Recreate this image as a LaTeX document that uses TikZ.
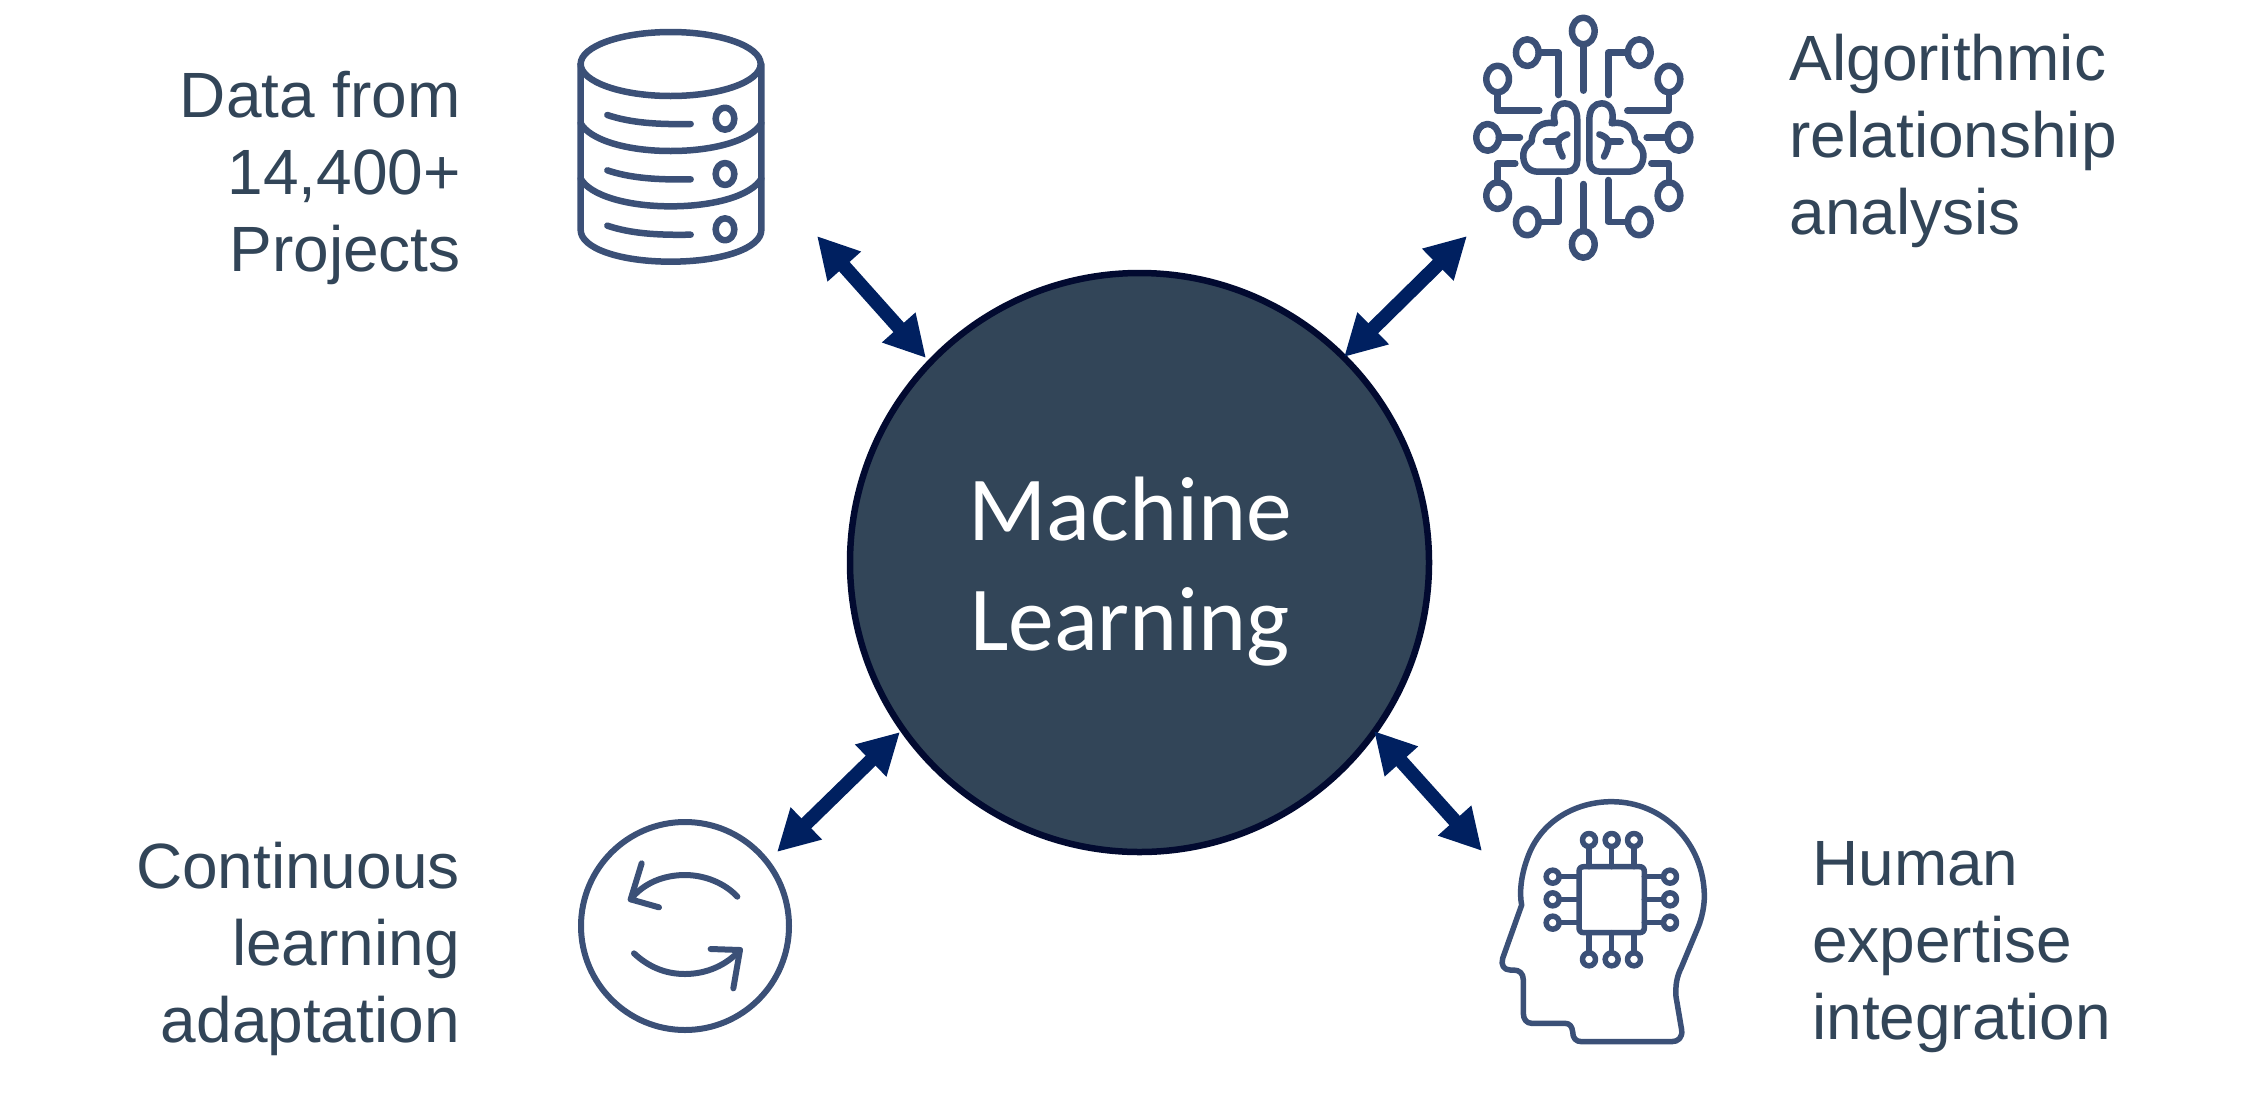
\documentclass[tikz,border=0pt]{standalone}
\usepackage{fontspec}
\setmainfont{Liberation Sans}
\newfontfamily\mlfont{Carlito}
\usetikzlibrary{arrows.meta}
\definecolor{icon}{HTML}{3B5077}
\definecolor{arrowc}{HTML}{002060}
\definecolor{ink}{HTML}{324558}
\definecolor{mlfill}{HTML}{324558}
\definecolor{mlrim}{HTML}{020A30}
\tikzset{
  labeltext/.style={text=ink,font=\fontsize{64}{77}\selectfont,inner sep=0pt},
  linkarrow/.style={line width=14pt,arrowc,{Triangle[length=41pt,width=42pt]}-{Triangle[length=41pt,width=42pt]}},
  iconline/.style={draw=icon,line width=6.5pt,line cap=round,line join=round},
  cycleline/.style={draw=icon,line width=6pt,line cap=round,line join=round},
  thinline/.style={draw=icon,line width=5.5pt,line cap=round,line join=round},
}
\begin{document}
\begin{tikzpicture}[x=1pt,y=-1pt]
\useasboundingbox (0,0) rectangle (2249,1096);
% centre
\node[circle,fill=mlfill,draw=mlrim,line width=6.5pt,minimum size=579pt,inner sep=0pt] (ml) at (1139.5,562.5) {};
\node[text=white,align=center,inner sep=0pt,font=\mlfont\fontsize{91.5}{110}\selectfont,anchor=center] (mlt) at (1130,572) {Machine\\Learning};
% labels
\node[labeltext,align=right,anchor=north east] (data) at (461,71) {Data from\\14,400+\\Projects};
\node[labeltext,align=left,anchor=north west] (algo) at (1789.3,34) {Algorithmic\\relationship\\analysis};
\node[labeltext,align=right,anchor=north east] (cont) at (460,842) {Continuous\\learning\\adaptation};
\node[labeltext,align=left,anchor=north west] (human) at (1812,841) {Human\\expertise\\integration};
% arrows
\coordinate (a1) at (817,236); \coordinate (a2) at (926,358);
\coordinate (b1) at (1467,236); \coordinate (b2) at (1344,357);
\coordinate (c1) at (900,732); \coordinate (c2) at (777,852);
\coordinate (d1) at (1374,731); \coordinate (d2) at (1482,851);
\draw[linkarrow] (a1) -- (a2);
\draw[linkarrow] (b1) -- (b2);
\draw[linkarrow] (c1) -- (c2);
\draw[linkarrow] (d1) -- (d2);
% database icon
\begin{scope}[shift={(540,0)},x=1pt/3,y=-1pt/3]
\draw[iconline] (392,192) ellipse [x radius=270,y radius=96];
\draw[iconline] (122,192) -- (122,690) .. controls (122,745) and (240,785) .. (392,785) .. controls (545,785) and (664,745) .. (664,690) -- (664,192);
\draw[iconline] (122,370) .. controls (150,420) and (260,453) .. (392,453) .. controls (525,453) and (635,420) .. (664,370);
\draw[iconline] (122,536) .. controls (150,586) and (260,619) .. (392,619) .. controls (525,619) and (635,586) .. (664,536);
\foreach \dy in {0,166,332} {
  \draw[iconline] (202,345+\dy) .. controls (270,368+\dy) and (350,374+\dy) .. (452,372+\dy);
  \draw[iconline] (555,356+\dy) ellipse [x radius=28,y radius=33];
}
\end{scope}
% brain icon
\foreach \sx in {1,-1} {
\begin{scope}[shift={(1583.3,0)},x=\sx*1pt/3,y=-1pt/3]
\draw[iconline] (-168,158) ellipse [x radius=34,y radius=40];
\draw[iconline] (-134,158) -- (-75,158) -- (-75,285);
\draw[iconline] (-257,237) ellipse [x radius=34,y radius=40];
\draw[iconline] (-257,277) -- (-257,332) -- (-132,332);
\draw[iconline] (-287,412) ellipse [x radius=34,y radius=40];
\draw[iconline] (-253,412) -- (-190,412);
\draw[iconline] (-257,587) ellipse [x radius=34,y radius=40];
\draw[iconline] (-257,547) -- (-257,490) -- (-204,490);
\draw[iconline] (-168,666) ellipse [x radius=34,y radius=40];
\draw[iconline] (-134,666) -- (-75,666) -- (-75,540);
% brain half
\draw[iconline] (-18,360) .. controls (-18,325) and (-35,310) .. (-55,310) .. controls (-80,310) and (-95,335) .. (-85,370)
  .. controls (-125,362) and (-155,385) .. (-155,425) .. controls (-178,440) and (-182,460) .. (-180,472)
  .. controls (-178,500) and (-160,515) .. (-135,515) -- (-50,515) .. controls (-30,515) and (-18,500) .. (-18,480) -- cycle;
\draw[iconline] (-112,425) -- (-75,425);
\draw[iconline] (-48,403) .. controls (-62,408) and (-75,415) .. (-75,428) .. controls (-75,445) and (-68,458) .. (-62,470);
\end{scope}
}
\begin{scope}[shift={(1583.3,0)},x=1pt/3,y=-1pt/3]
\draw[iconline] (0,93) ellipse [x radius=34,y radius=40];
\draw[iconline] (0,133) -- (0,272);
\draw[iconline] (0,733) ellipse [x radius=34,y radius=40];
\draw[iconline] (0,693) -- (0,552);
\end{scope}
% cycle icon
\begin{scope}[shift={(560,800)},x=1pt/3,y=-1pt/3]
\draw[cycleline] (375,378) circle [radius=104pt];
\draw[cycleline] (532,290) .. controls (495,250) and (435,225) .. (375,225) .. controls (310,225) and (250,250) .. (212,298);
\draw[cycleline] (245,190) -- (212,298) -- (297,322);
\draw[cycleline] (222,460) .. controls (265,500) and (315,522) .. (375,522) .. controls (440,522) and (500,495) .. (540,450);
\draw[cycleline] (452,447) -- (540,450) -- (520,565);
\end{scope}
% head icon
\begin{scope}[shift={(1490,780)},x=1pt/3,y=-1pt/3]
\draw[thinline] (95,375) .. controls (88,340) and (92,290) .. (112,235) .. controls (150,125) and (255,65) .. (365,65)
  .. controls (520,65) and (643,190) .. (643,350) .. controls (643,380) and (635,415) .. (625,440)
  -- (575,560) .. controls (560,590) and (556,615) .. (558,650) -- (575,750)
  .. controls (578,772) and (565,785) .. (545,785) -- (275,785)
  .. controls (258,785) and (248,775) .. (248,755) .. controls (246,738) and (238,730) .. (225,730)
  -- (125,730) .. controls (110,730) and (100,718) .. (100,700) -- (100,600)
  .. controls (100,580) and (88,570) .. (70,570) -- (60,570) .. controls (42,570) and (32,555) .. (38,535) -- cycle;
\draw[thinline] (282,260) -- (448,260) .. controls (458,260) and (463,265) .. (463,275) -- (463,443) .. controls (463,453) and (458,458) .. (448,458) -- (282,458) .. controls (272,458) and (267,453) .. (267,443) -- (267,275) .. controls (267,265) and (272,260) .. (282,260) -- cycle;
\foreach \p in {297,365,432} {
  \draw[thinline] (\p,180) circle [radius=6.5pt];
  \draw[thinline] (\p,200) -- (\p,260);
  \draw[thinline] (\p,538) circle [radius=6.5pt];
  \draw[thinline] (\p,458) -- (\p,518);
}
\foreach \p in {290,358,428} {
  \draw[thinline] (188,\p) circle [radius=6.5pt];
  \draw[thinline] (208,\p) -- (267,\p);
  \draw[thinline] (540,\p) circle [radius=6.5pt];
  \draw[thinline] (463,\p) -- (520,\p);
}
\end{scope}
\end{tikzpicture}
\end{document}
